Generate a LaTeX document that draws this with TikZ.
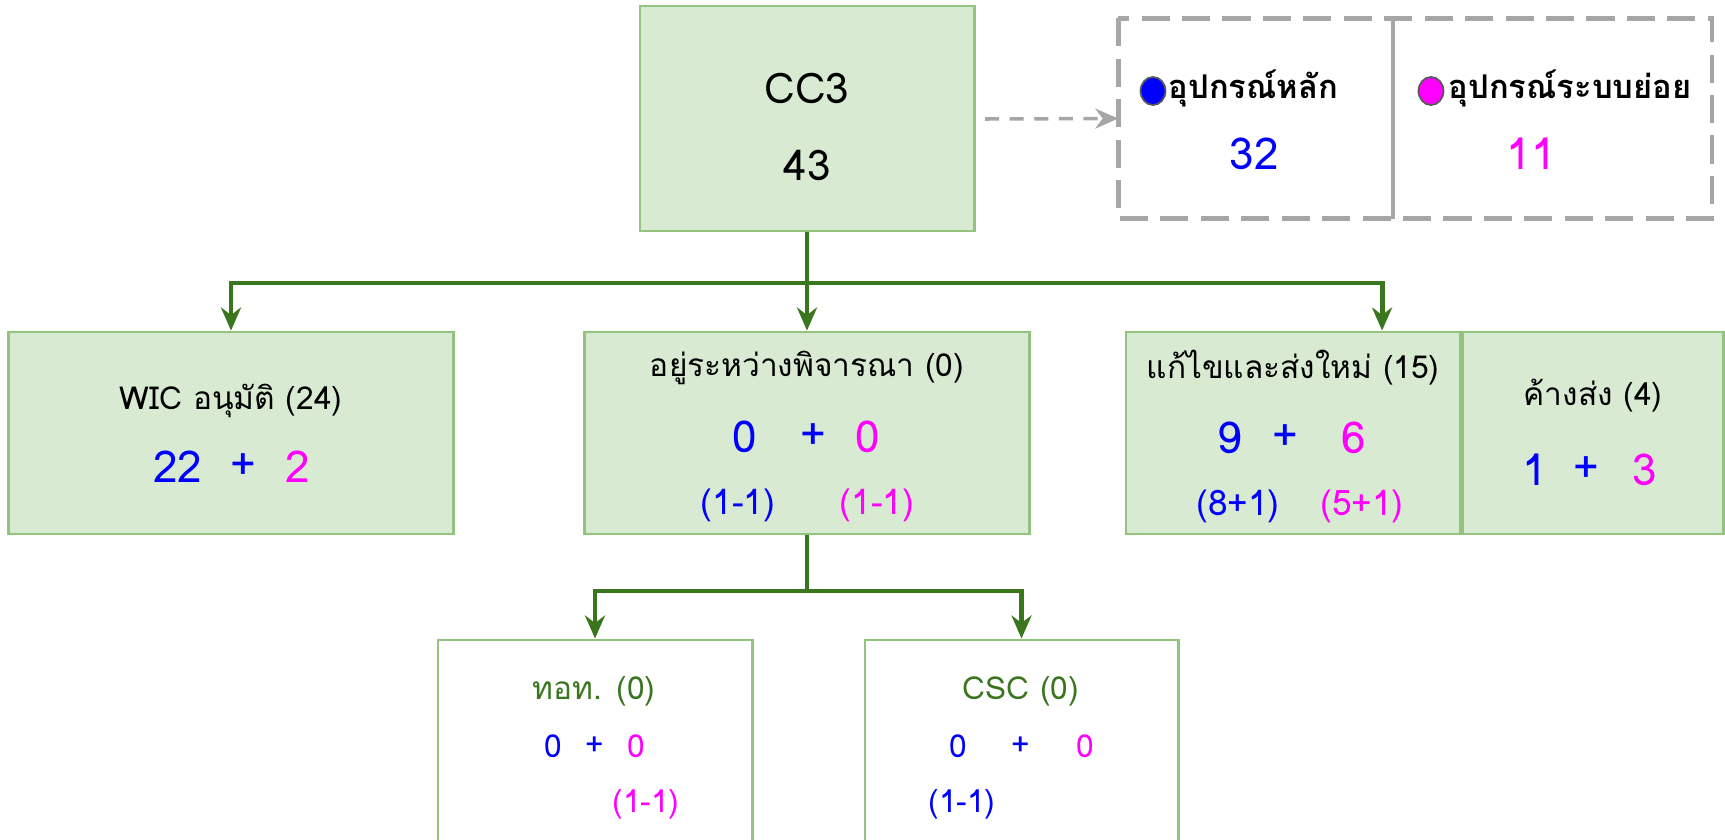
\documentclass[tikz,border=0pt]{standalone}
\usepackage{fontspec}
\setmainfont[Script=Thai]{Loma}
\usetikzlibrary{arrows.meta}

\definecolor{boxfill}{HTML}{D9EAD3}
\definecolor{boxline}{HTML}{93C47D}
\definecolor{treegreen}{HTML}{3A761E}
\definecolor{leggray}{HTML}{A6A6A6}
\definecolor{mainblue}{HTML}{0000FF}
\definecolor{submagenta}{HTML}{FF00FF}

\tikzset{
  greenbox/.style={draw=boxline,fill=boxfill,line width=0.8pt,inner sep=0pt},
  whitebox/.style={draw=boxline,fill=white,line width=0.8pt,inner sep=0pt},
  legbox/.style={inner sep=0pt},
  tree/.style={draw=treegreen,line width=1.4pt},
  legline/.style={draw=leggray,line width=1.3pt},
  dot/.style={ellipse,draw=gray!70!black,line width=0.5pt,minimum width=0.25cm,minimum height=0.28cm,inner sep=0pt},
  headtxt/.style={font=\fontsize{12}{14}\selectfont},
  legtxt/.style={font=\bfseries\fontsize{9.3}{11}\selectfont,anchor=west,inner sep=0pt},
  titletxt/.style={font=\fontsize{9}{11}\selectfont},
  bignum/.style={font=\fontsize{12.5}{15}\selectfont},
  subnum/.style={font=\fontsize{10}{12}\selectfont},
  smallnum/.style={font=\fontsize{9}{11}\selectfont}
}
\usetikzlibrary{shapes.geometric}

\begin{document}
\begin{tikzpicture}[x=0.01cm,y=-0.01cm,>={Stealth[length=2.3mm,width=2mm]}]
  \useasboundingbox (0,0) rectangle (1725,839);

  % boxes
  \node[greenbox,minimum width=3.34cm,minimum height=2.25cm] (cc3) at (807,118.5) {};
  \node[legbox,minimum width=2.73cm,minimum height=1.99cm] (mainleg) at (1255.5,118.5) {};
  \node[legbox,minimum width=3.19cm,minimum height=1.99cm] (subleg) at (1551.5,118.5) {};

  \node[greenbox,minimum width=4.44cm,minimum height=2.02cm] (wic) at (231,433) {};
  \node[greenbox,minimum width=4.44cm,minimum height=2.02cm] (pending) at (807,433) {};
  \node[greenbox,minimum width=3.34cm,minimum height=2.02cm] (fix) at (1293,433) {};
  \node[greenbox,minimum width=2.60cm,minimum height=2.02cm] (owe) at (1593,433) {};

  \node[whitebox,minimum width=3.14cm,minimum height=2.60cm] (aot) at (595,770) {};
  \node[whitebox,minimum width=3.13cm,minimum height=2.60cm] (csc) at (1021.5,770) {};

  % legend frame
  \draw[legline,dash pattern=on 8pt off 3.5pt] (mainleg.north west) rectangle (subleg.south east);
  \draw[legline] (mainleg.north east) -- (mainleg.south east);
  \coordinate (legstart) at (985,119);
  \draw[legline,line width=1pt,dash pattern=on 4pt off 3pt,->] (legstart) -- (mainleg.west);

  % tree
  \coordinate (j1) at (807,283);
  \coordinate (j2) at (807,591);
  \begin{scope}[tree]
    \draw (cc3.south) -- (j1);
    \draw[->] (j1) -| (wic.north);
    \draw[->] (j1) -- (pending.north);
    \draw[->] (j1) -| ([xshift=0.89cm]fix.north);
    \draw (pending.south) -- (j2);
    \draw[->] (j2) -| (aot.north);
    \draw[->] (j2) -| (csc.north);
  \end{scope}

  % texts
  \node[headtxt] (cc3name) at (807,88) {CC3};
  \node[headtxt] (cc3sum) at (807,165) {43};

  \node[dot,fill=mainblue] (maindot) at (1153,91) {};
  \node[legtxt] (maintxt) at (1168,88) {อุปกรณ์หลัก};
  \node[bignum,text=mainblue] (mainsum) at (1254,154) {32};
  \node[dot,fill=submagenta] (subdot) at (1431,91) {};
  \node[legtxt] (subtxt) at (1448,88) {อุปกรณ์ระบบย่อย};
  \node[bignum,text=submagenta] (subsum) at (1531,154) {11};

  \node[titletxt] (wictxt) at (231,401) {WIC อนุมัติ (24)};
  \node[bignum,text=mainblue] (wicmain) at (178,467) {22};
  \node[bignum,text=mainblue] (wicplus) at (243,467) {+};
  \node[bignum,text=submagenta] (wicsub) at (298,467) {2};

  \node[titletxt] (pendtxt) at (807,368) {อยู่ระหว่างพิจารณา (0)};
  \node[bignum,text=mainblue] (pendmain) at (745,437) {0};
  \node[bignum,text=mainblue] (pendplus) at (813,437) {+};
  \node[bignum,text=submagenta] (pendsub) at (868,437) {0};
  \node[subnum,text=mainblue] (pendmaindet) at (738,505) {(1-1)};
  \node[subnum,text=submagenta] (pendsubdet) at (877,505) {(1-1)};

  \node[titletxt] (fixtxt) at (1293,368) {แก้ไขและส่งใหม่ (15)};
  \node[bignum,text=mainblue] (fixmain) at (1230,438) {9};
  \node[bignum,text=mainblue] (fixplus) at (1285,438) {+};
  \node[bignum,text=submagenta] (fixsub) at (1354,438) {6};
  \node[subnum,text=mainblue] (fixmaindet) at (1238,506) {(8+1)};
  \node[subnum,text=submagenta] (fixsubdet) at (1362,506) {(5+1)};

  \node[titletxt] (owetxt) at (1593,396) {ค้างส่ง (4)};
  \node[bignum,text=mainblue] (owemain) at (1535,470) {1};
  \node[bignum,text=mainblue] (oweplus) at (1586,470) {+};
  \node[bignum,text=submagenta] (owesub) at (1645,470) {3};

  \node[titletxt,text=treegreen] (aottxt) at (594,691) {ทอท. (0)};
  \node[smallnum,text=mainblue] (aotmain) at (553,746) {0};
  \node[smallnum,text=mainblue] (aotplus) at (595,746) {+};
  \node[smallnum,text=submagenta] (aotsub) at (636,746) {0};
  \node[smallnum,text=submagenta] (aotsubdet) at (646,804) {(1-1)};

  \node[titletxt,text=treegreen] (csctxt) at (1021,691) {CSC (0)};
  \node[smallnum,text=mainblue] (cscmain) at (958,746) {0};
  \node[smallnum,text=mainblue] (cscplus) at (1021,746) {+};
  \node[smallnum,text=submagenta] (cscsub) at (1085,746) {0};
  \node[smallnum,text=mainblue] (cscmaindet) at (962,804) {(1-1)};
\end{tikzpicture}
\end{document}
